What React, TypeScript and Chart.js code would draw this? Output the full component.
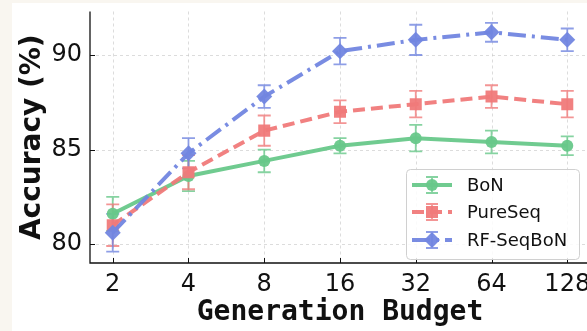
import React, { useEffect, useRef } from 'react';
import { Chart, registerables } from 'chart.js';

Chart.register(...registerables);

const budgets = [2, 4, 8, 16, 32, 64, 128];
const seriesNames = ['BoN', 'PureSeq', 'RF-SeqBoN'];
const bonMean = [81.6, 83.6, 84.4, 85.2, 85.6, 85.4, 85.2];
const bonErr = [0.9, 0.8, 0.6, 0.4, 0.7, 0.6, 0.5];
const pureMean = [81.0, 83.8, 86.0, 87.0, 87.4, 87.8, 87.4];
const pureErr = [1.1, 0.9, 0.8, 0.6, 0.7, 0.6, 0.7];
const rfMean = [80.6, 84.8, 87.8, 90.2, 90.8, 91.2, 90.8];
const rfErr = [1.0, 0.8, 0.6, 0.7, 0.8, 0.5, 0.6];
const yTicks = [80, 85, 90];

const GREEN = 'rgba(104, 200, 138, 0.95)';
const RED = 'rgba(240, 122, 122, 0.95)';
const BLUE = 'rgba(114, 134, 224, 0.95)';
const GREEN_E = 'rgba(104, 200, 138, 0.8)';
const RED_E = 'rgba(240, 122, 122, 0.8)';
const BLUE_E = 'rgba(114, 134, 224, 0.8)';

const FONT = "'DejaVu Sans', sans-serif";
const MONO = "'DejaVu Sans Mono', monospace";

const axesPlugin = {
  id: 'axesDecor',
  beforeDatasetsDraw(chart: any) {
    const { ctx, chartArea, scales } = chart;
    const x = scales.x;
    const y = scales.y;
    ctx.save();
    ctx.strokeStyle = 'rgba(200,200,200,0.8)';
    ctx.lineWidth = 0.8;
    ctx.setLineDash([3, 3]);
    budgets.forEach((b) => {
      const px = Math.round(x.getPixelForValue(b)) + 0.5;
      ctx.beginPath();
      ctx.moveTo(px, chartArea.top);
      ctx.lineTo(px, chartArea.bottom);
      ctx.stroke();
    });
    yTicks.forEach((t) => {
      const py = Math.round(y.getPixelForValue(t)) + 0.5;
      ctx.beginPath();
      ctx.moveTo(chartArea.left, py);
      ctx.lineTo(chartArea.right + 40, py);
      ctx.stroke();
    });
    ctx.restore();

    // error bars
    chart.data.datasets.forEach((ds: any, di: number) => {
      const meta = chart.getDatasetMeta(di);
      ctx.save();
      ctx.strokeStyle = ds.errColor;
      ctx.lineWidth = 1.8;
      meta.data.forEach((pt: any, i: number) => {
        const v = ds.data[i].y;
        const e = ds.errors[i];
        const px = pt.x;
        const top = y.getPixelForValue(v + e);
        const bot = y.getPixelForValue(v - e);
        ctx.beginPath();
        ctx.moveTo(px, top);
        ctx.lineTo(px, bot);
        ctx.moveTo(px - 6.5, top);
        ctx.lineTo(px + 6.5, top);
        ctx.moveTo(px - 6.5, bot);
        ctx.lineTo(px + 6.5, bot);
        ctx.stroke();
      });
      ctx.restore();
    });
  },
  afterDraw(chart: any) {
    const { ctx, chartArea, scales } = chart;
    const x = scales.x;
    const y = scales.y;
    ctx.save();
    ctx.strokeStyle = '#111';
    ctx.lineWidth = 1.3;
    ctx.beginPath();
    ctx.moveTo(chartArea.left, chartArea.top);
    ctx.lineTo(chartArea.left, chartArea.bottom);
    ctx.lineTo(chartArea.right + 40, chartArea.bottom);
    ctx.stroke();
    ctx.lineWidth = 1;
    budgets.forEach((b) => {
      const px = Math.round(x.getPixelForValue(b)) + 0.5;
      ctx.beginPath();
      ctx.moveTo(px, chartArea.bottom);
      ctx.lineTo(px, chartArea.bottom - 5);
      ctx.stroke();
    });
    yTicks.forEach((t) => {
      const py = Math.round(y.getPixelForValue(t)) + 0.5;
      ctx.beginPath();
      ctx.moveTo(chartArea.left, py);
      ctx.lineTo(chartArea.left + 5, py);
      ctx.stroke();
    });
    ctx.restore();

    // legend
    const lx = 394, ly = 166, lw = 173, lh = 90;
    ctx.save();
    ctx.fillStyle = 'rgba(255,255,255,0.85)';
    ctx.strokeStyle = '#d0d0d0';
    ctx.lineWidth = 1;
    ctx.beginPath();
    (ctx as any).roundRect(lx + 0.5, ly + 0.5, lw, lh, 4);
    ctx.fill();
    ctx.stroke();
    const rows = [182, 209, 237];
    chart.data.datasets.forEach((ds: any, di: number) => {
      const ry = rows[di];
      ctx.save();
      ctx.strokeStyle = ds.borderColor;
      ctx.lineWidth = 4;
      ctx.setLineDash(ds.borderDash || []);
      ctx.beginPath();
      ctx.moveTo(400, ry);
      ctx.lineTo(440, ry);
      ctx.stroke();
      ctx.setLineDash([]);
      ctx.strokeStyle = ds.errColor;
      ctx.lineWidth = 1.8;
      ctx.beginPath();
      ctx.moveTo(420, ry - 8);
      ctx.lineTo(420, ry + 8);
      ctx.moveTo(414, ry - 8);
      ctx.lineTo(426, ry - 8);
      ctx.moveTo(414, ry + 8);
      ctx.lineTo(426, ry + 8);
      ctx.stroke();
      ctx.fillStyle = ds.backgroundColor;
      ctx.beginPath();
      const s = ds.pointStyle;
      if (s === 'circle') {
        ctx.arc(420, ry, 6, 0, Math.PI * 2);
      } else if (s === 'rect') {
        ctx.rect(420 - 6, ry - 6, 12, 12);
      } else {
        ctx.moveTo(420, ry - 8);
        ctx.lineTo(428, ry);
        ctx.lineTo(420, ry + 8);
        ctx.lineTo(412, ry);
        ctx.closePath();
      }
      ctx.fill();
      ctx.restore();
      ctx.fillStyle = '#111';
      ctx.font = `18px ${FONT}`;
      ctx.textBaseline = 'middle';
      ctx.textAlign = 'left';
      ctx.fillText(ds.label, 455, ry + 1);
    });
    ctx.restore();
  },
};

function makeData(mean: number[]) {
  return budgets.map((b, i) => ({ x: b, y: mean[i] }));
}

export default function App() {
  const ref = useRef<HTMLCanvasElement>(null);
  useEffect(() => {
    document.body.style.margin = '0';
    document.body.style.background = '#f9f6f0';
    document.body.style.overflow = 'hidden';
    const canvas = ref.current!;
    const chart = new Chart(canvas, {
      type: 'line',
      data: {
        datasets: [
          {
            label: seriesNames[0],
            data: makeData(bonMean),
            errors: bonErr,
            errColor: GREEN_E,
            borderColor: GREEN,
            backgroundColor: GREEN,
            borderWidth: 4,
            pointStyle: 'circle',
            pointRadius: 6,
            pointBorderWidth: 0,
            order: 3,
          } as any,
          {
            label: seriesNames[1],
            data: makeData(pureMean),
            errors: pureErr,
            errColor: RED_E,
            borderColor: RED,
            backgroundColor: RED,
            borderWidth: 4,
            borderDash: [12, 6],
            borderCapStyle: 'butt',
            pointStyle: 'rect',
            pointRadius: 8.5,
            pointBorderWidth: 0,
            order: 2,
          } as any,
          {
            label: seriesNames[2],
            data: makeData(rfMean),
            errors: rfErr,
            errColor: BLUE_E,
            borderColor: BLUE,
            backgroundColor: BLUE,
            borderWidth: 4,
            borderDash: [18, 6, 3, 6],
            borderCapStyle: 'butt',
            pointStyle: 'rectRot',
            pointRadius: 8,
            pointBorderWidth: 0,
            order: 1,
          } as any,
        ],
      },
      options: {
        animation: false,
        responsive: false,
        devicePixelRatio: 1,
        layout: { padding: { top: 7, left: 0, right: 22, bottom: 0 } },
        plugins: { legend: { display: false }, tooltip: { enabled: false } },
        elements: { line: { tension: 0 } },
        scales: {
          x: {
            type: 'logarithmic',
            min: 2 / Math.pow(2, 0.3),
            max: 128 * Math.pow(2, 0.3),
            afterBuildTicks: (s: any) => {
              s.ticks = budgets.map((v) => ({ value: v }));
            },
            afterFit: (s: any) => {
              s.height = 68;
              s.paddingLeft = 0;
              s.paddingRight = 0;
            },
            grid: { display: false, drawTicks: false },
            border: { display: false },
            ticks: {
              autoSkip: false,
              maxRotation: 0,
              minRotation: 0,
              padding: 7,
              color: '#111',
              font: { family: FONT, size: 24 },
              callback: (v: any) => String(v),
            },
            title: {
              display: true,
              text: 'Generation Budget',
              color: '#111',
              font: { family: MONO, size: 28, weight: 'bold' },
              padding: { top: 0, bottom: 1 },
            },
          },
          y: {
            type: 'linear',
            min: 79.0,
            max: 92.3,
            afterBuildTicks: (s: any) => {
              s.ticks = yTicks.map((v) => ({ value: v }));
            },
            afterFit: (s: any) => {
              s.width = 78;
              s.paddingTop = 0;
              s.paddingBottom = 0;
            },
            grid: { display: false, drawTicks: false },
            border: { display: false },
            ticks: {
              padding: 8,
              color: '#111',
              font: { family: FONT, size: 24 },
              callback: (v: any) => String(v),
            },
            title: {
              display: true,
              text: 'Accuracy (%)',
              color: '#111',
              font: { family: FONT, size: 28, weight: 'bold' },
              padding: { top: 4, bottom: 0 },
            },
          },
        },
      } as any,
      plugins: [axesPlugin],
    });
    return () => chart.destroy();
  }, []);

  return (
    <div style={{ position: 'relative', width: 587, height: 331, overflow: 'hidden', background: '#f9f6f0' }}>
      <div style={{ position: 'absolute', left: 12, top: 3, width: 600, height: 328, background: '#ffffff' }}>
        <canvas ref={ref} width={600} height={328} style={{ display: 'block', width: 600, height: 328 }} />
      </div>
    </div>
  );
}
